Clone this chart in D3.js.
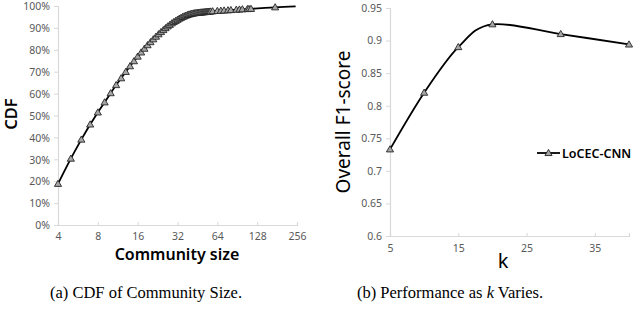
<!DOCTYPE html>
<html><head><meta charset="utf-8">
<script src="https://cdn.jsdelivr.net/npm/d3@7"></script>
<style>body{margin:0;background:#fff}svg{display:block}</style>
</head><body>
<svg id="c" width="640" height="310"></svg>
<script>
// ---- Data: (a) CDF of community size ----
const cdfSizes = [4,5,6,7,8,9,10,11,12,13,14,15,16,17,18,19,20,21,22,23,24,25,26,27,28,29,30,31,32,33,34,35,36,37,38,39,40,41,42,43,44,45,46,47,48,49,50,51,52,53,54,55,56,57,59,64,68,72,77,81,89,94,99,108,111,115,175];
const cdfValues = [18.8,30.3,39.0,45.9,51.4,56.0,60.2,63.9,67.0,69.9,72.5,74.8,76.9,78.8,80.5,82.1,83.5,84.8,86.0,87.1,88.1,89.0,89.9,90.7,91.4,92.1,92.7,93.2,93.7,94.2,94.6,95.0,95.3,95.6,95.9,96.1,96.3,96.45,96.6,96.7,96.8,96.9,96.95,97.0,97.05,97.1,97.15,97.2,97.25,97.3,97.35,97.4,97.45,97.5,97.6,97.75,97.85,97.95,98.05,98.15,98.3,98.4,98.5,98.6,98.65,98.7,99.4];
const cdfTail = {size: 250, value: 99.8};
const cdfXTicks = [4,8,16,32,64,128,256];
const cdfYTicks = [0,10,20,30,40,50,60,70,80,90,100];

// ---- Data: (b) performance as k varies ----
const kValues = [5,10,15,20,30,40];
const f1Values = [0.733,0.820,0.890,0.925,0.910,0.894];
const kTicks = [5,15,25,35];
const f1Ticks = [0.6,0.65,0.7,0.75,0.8,0.85,0.9,0.95];
const seriesName = "LoCEC-CNN";

const svg = d3.select("#c");
const axisColor = "#d9d9d9", tickText = "#595959";
const sans = "'Noto Sans', 'Liberation Sans', sans-serif";

function triangle(g, pts){
  g.selectAll("path.m").data(pts).join("path").attr("class","m")
    .attr("d", d3.symbol().type(d3.symbolTriangle).size(22))
    .attr("transform", d => `translate(${d[0]},${d[1]+0.5})`)
    .attr("fill","#a6a6a6").attr("stroke","#262626").attr("stroke-width",0.9);
}

// ===== Chart (a) =====
{
  const x = d3.scaleLog().base(2).domain([4,256]).range([58,297]);
  const y = d3.scaleLinear().domain([0,100]).range([225,6]);
  const g = svg.append("g");
  const ya = g.append("g").attr("transform","translate(58,0)")
    .call(d3.axisLeft(y).tickValues(cdfYTicks).tickSize(4).tickPadding(4).tickFormat(d=>d+"%"));
  const xa = g.append("g").attr("transform","translate(0,225)")
    .call(d3.axisBottom(x).tickValues(cdfXTicks).tickSize(-3).tickPadding(8).tickFormat(d3.format("d")));
  [ya,xa].forEach(a=>{
    a.select(".domain").attr("stroke",axisColor).attr("stroke-width",1.2);
    a.selectAll(".tick line").attr("stroke",axisColor);
    a.selectAll("text").attr("fill",tickText).style("font-family",sans).style("font-size","10.5px");
  });
  ya.selectAll("text").attr("dy","0.36em");
  const pts = cdfSizes.map((s,i)=>[x(s), y(cdfValues[i])]);
  const linePts = pts.concat([[x(cdfTail.size), y(cdfTail.value)]]);
  g.append("path").attr("d", d3.line().curve(d3.curveCardinal)(linePts))
    .attr("fill","none").attr("stroke","#000").attr("stroke-width",1.8);
  triangle(g.append("g"), pts);
  g.append("text").attr("transform","translate(17,114) rotate(-90)").attr("text-anchor","middle")
    .style("font-family",sans).style("font-size","16.5px").style("font-weight","600").text("CDF");
  g.append("text").attr("x",177).attr("y",260).attr("text-anchor","middle")
    .style("font-family",sans).style("font-size","16px").style("font-weight","600").text("Community size");
}

// ===== Chart (b) =====
{
  const x = d3.scaleLinear().domain([5,40]).range([390,629]);
  const y = d3.scaleLinear().domain([0.6,0.95]).range([236,8]);
  const g = svg.append("g");
  const ya = g.append("g").attr("transform","translate(390,0)")
    .call(d3.axisLeft(y).tickValues(f1Ticks).tickSize(4).tickPadding(4).tickFormat(d=>d3.format("")(+d.toFixed(2))));
  const xa = g.append("g").attr("transform","translate(0,236)")
    .call(d3.axisBottom(x).tickValues(kTicks).tickSize(-3).tickPadding(9).tickFormat(d3.format("d")));
  [ya,xa].forEach(a=>{
    a.select(".domain").attr("stroke",axisColor).attr("stroke-width",1.2);
    a.selectAll(".tick line").attr("stroke",axisColor);
    a.selectAll("text").attr("fill",tickText).style("font-family",sans).style("font-size","10.5px");
  });
  const pts = kValues.map((k,i)=>[x(k), y(f1Values[i])]);
  g.append("path").attr("d", d3.line().curve(d3.curveCardinal)(pts))
    .attr("fill","none").attr("stroke","#000").attr("stroke-width",1.8);
  triangle(g.append("g"), pts);
  g.append("text").attr("transform","translate(350,122) rotate(-90)").attr("text-anchor","middle")
    .style("font-family",sans).style("font-size","19px").text("Overall F1-score");
  g.append("text").attr("x",503).attr("y",268).attr("text-anchor","middle")
    .style("font-family",sans).style("font-size","20px").text("k");
  // legend
  const lg = g.append("g").attr("transform","translate(537,153)");
  lg.append("line").attr("x1",0).attr("x2",23).attr("y1",0).attr("y2",0).attr("stroke","#000").attr("stroke-width",1.8);
  triangle(lg.append("g"), [[11.5,0]]);
  lg.append("text").attr("x",25).attr("y",4.5).style("font-family",sans).style("font-size","12.5px").style("font-weight","600").text(seriesName);
}

// captions
svg.append("text").attr("x",50).attr("y",298).style("font-family","'Liberation Serif', serif").style("font-size","16.5px").text("(a) CDF of Community Size.");
const cb = svg.append("text").attr("x",357).attr("y",298).style("font-family","'Liberation Serif', serif").style("font-size","16.5px");
cb.append("tspan").text("(b) Performance as ");
cb.append("tspan").style("font-style","italic").text("k");
cb.append("tspan").text(" Varies.");
</script>
</body></html>
